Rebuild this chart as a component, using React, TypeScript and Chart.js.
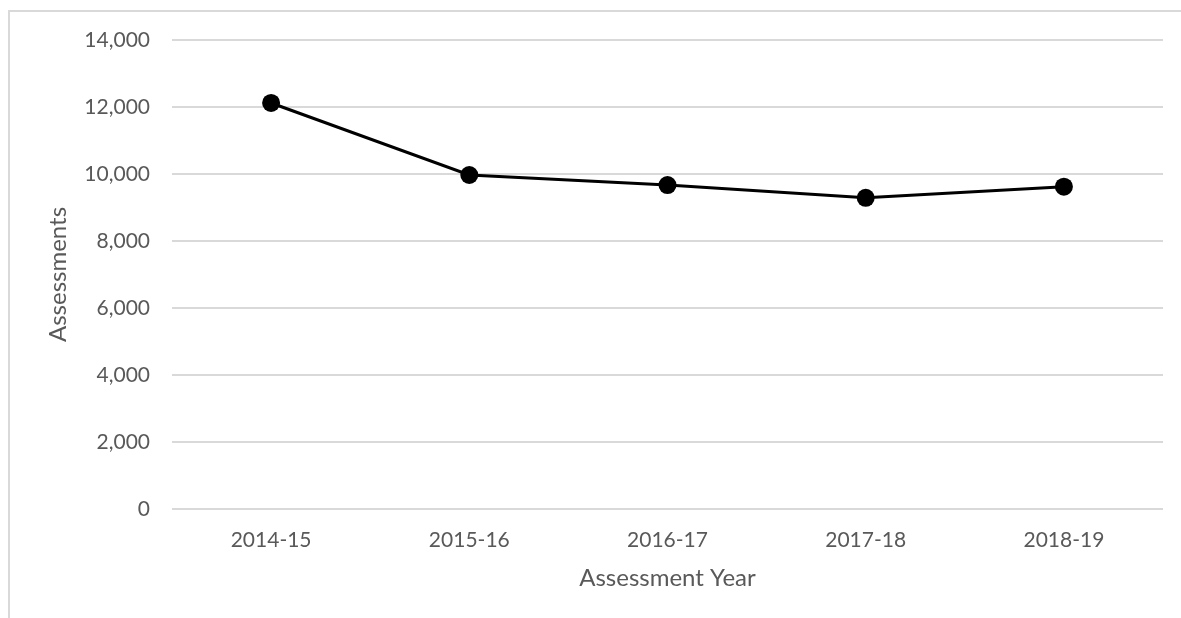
import React, { useEffect, useRef } from "react";
import { Chart, registerables } from "chart.js";

Chart.register(...registerables);

// Annual assessment counts
const years: string[] = ["2014-15", "2015-16", "2016-17", "2017-18", "2018-19"];
const assessments: number[] = [12120, 9970, 9670, 9290, 9620];

// Value axis
const yMin = 0;
const yMax = 14000;
const yStep = 2000;

const xTitle = "Assessment Year";
const yTitle = "Assessments";

const FONT = "Lato, 'Open Sans', sans-serif";
const TEXT = "#595959";
const GRID = "#d9d9d9";

export default function App() {
  const canvasRef = useRef<HTMLCanvasElement | null>(null);

  useEffect(() => {
    const canvas = canvasRef.current;
    if (!canvas) return;
    const chart = new Chart(canvas, {
      type: "line",
      data: {
        labels: years,
        datasets: [
          {
            label: yTitle,
            data: assessments,
            borderColor: "#000000",
            backgroundColor: "#000000",
            borderWidth: 3,
            pointRadius: 9,
            pointHoverRadius: 9,
            pointBackgroundColor: "#000000",
            pointBorderWidth: 0,
            tension: 0,
          },
        ],
      },
      options: {
        animation: false,
        responsive: false,
        maintainAspectRatio: false,
        layout: { padding: { left: 0, top: 40, right: 18, bottom: 0 } },
        plugins: {
          legend: { display: false },
          tooltip: { enabled: false },
        },
        scales: {
          x: {
            offset: true,
            grid: { display: false, drawTicks: false },
            border: { display: false },
            ticks: {
              color: TEXT,
              font: { family: FONT, size: 21 },
              padding: 19,
              maxRotation: 0,
            },
            title: {
              display: true,
              text: xTitle,
              color: TEXT,
              font: { family: FONT, size: 24 },
              padding: { top: 0, bottom: 25 },
            },
            afterFit: (scale: any) => {
              scale.height = 109;
            },
          },
          y: {
            min: yMin,
            max: yMax,
            grid: { color: GRID, lineWidth: 2, drawTicks: false },
            border: { display: false },
            ticks: {
              stepSize: yStep,
              color: TEXT,
              font: { family: FONT, size: 21 },
              padding: 22,
              callback: (v: any) => Number(v).toLocaleString("en-US"),
            },
            title: {
              display: true,
              text: yTitle,
              color: TEXT,
              font: { family: FONT, size: 24 },
              padding: { top: 44, bottom: 0 },
            },
            afterFit: (scale: any) => {
              scale.width = 172;
            },
          },
        },
      },
    });
    return () => chart.destroy();
  }, []);

  return (
    <div
      style={{
        position: "fixed",
        left: 0,
        top: 0,
        width: 1181,
        height: 618,
        background: "#ffffff",
        overflow: "hidden",
      }}
    >
      <div
        style={{
          position: "absolute",
          left: 8,
          top: 10,
          width: 1200,
          height: 700,
          border: `2px solid ${GRID}`,
          boxSizing: "border-box",
        }}
      />
      <canvas
        ref={canvasRef}
        width={1181}
        height={618}
        style={{ position: "absolute", left: 0, top: 0 }}
      />
    </div>
  );
}
